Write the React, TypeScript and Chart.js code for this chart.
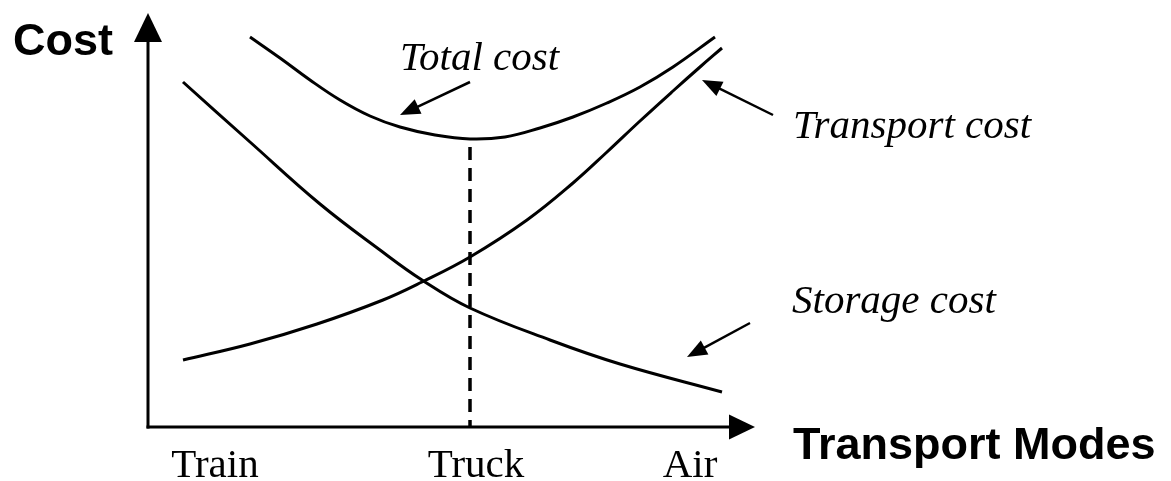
import React, { useEffect, useRef } from "react";
import { Chart, registerables } from "chart.js";

Chart.register(...registerables);

// ---- data (x: position along transport-mode axis, y: cost) ----
const modeTicks = [67, 328, 542];
const modeLabels = ["Train", "Truck", "Air"];

const storageX = [35, 102, 172, 232, 274, 322, 402, 472, 574];
const storageY = [345, 285, 223, 177, 147, 119, 87, 63, 35];

const transportX = [35, 102, 169, 235, 274, 322, 379, 425, 459, 492, 525, 552, 574];
const transportY = [67, 83, 103, 127, 145, 170, 207, 244, 275, 306, 336, 360, 379];

const totalX = [102, 132, 162, 192, 222, 252, 287, 322, 357, 392, 425, 459, 492, 525, 567];
const totalY = [390, 369, 347, 327, 311, 300, 292, 288, 290, 299, 310, 324, 340, 360, 390];

const optimumX = [322, 322];
const optimumY = [280, 0];

const annotationLabels = ["Total cost", "Transport cost", "Storage cost"];
// pointer arrows: tail -> tip, in data units
const arrowTailX = [322, 625, 602];
const arrowTailY = [345, 312, 104];
const arrowTipX = [252, 554, 539];
const arrowTipY = [312, 347, 70];

const axisTitleY = "Cost";
const axisTitleX = "Transport Modes";

// ---- layout / style ----
const W = 1171;
const H = 481;
const X_MAX = 607;
const Y_MAX = 414;
const labelAnchors = [
  { x: 400, y: 70 },
  { x: 793, y: 138 },
  { x: 792, y: 313 },
];

const toPoints = (xs: number[], ys: number[]) => xs.map((x, i) => ({ x, y: ys[i] }));

function triangle(ctx: CanvasRenderingContext2D, tx: number, ty: number, dx: number, dy: number, len: number, half: number) {
  const bx = tx - dx * len;
  const by = ty - dy * len;
  const nx = -dy;
  const ny = dx;
  ctx.beginPath();
  ctx.moveTo(tx, ty);
  ctx.lineTo(bx + nx * half, by + ny * half);
  ctx.lineTo(bx - nx * half, by - ny * half);
  ctx.closePath();
  ctx.fill();
}

const overlayPlugin = {
  id: "overlay",
  afterDraw(chart: any) {
    const { ctx, scales } = chart;
    const xs = scales.x;
    const ys = scales.y;
    const px = (v: number) => xs.getPixelForValue(v);
    const py = (v: number) => ys.getPixelForValue(v);
    ctx.save();
    ctx.strokeStyle = "#000";
    ctx.fillStyle = "#000";
    ctx.lineCap = "butt";

    const ox = px(0);
    const oy = py(0);
    const top = py(Y_MAX);
    const right = px(X_MAX);

    // axes
    ctx.lineWidth = 3;
    ctx.beginPath();
    ctx.moveTo(ox, oy + 1.5);
    ctx.lineTo(ox, top + 20);
    ctx.stroke();
    triangle(ctx, ox, top, 0, -1, 29, 14);

    ctx.beginPath();
    ctx.moveTo(ox - 1.5, oy);
    ctx.lineTo(right - 18, oy);
    ctx.stroke();
    triangle(ctx, right, oy, 1, 0, 26, 12.5);

    // pointer arrows
    ctx.lineWidth = 2.5;
    for (let i = 0; i < arrowTailX.length; i++) {
      const x1 = px(arrowTailX[i]);
      const y1 = py(arrowTailY[i]);
      const x2 = px(arrowTipX[i]);
      const y2 = py(arrowTipY[i]);
      const d = Math.hypot(x2 - x1, y2 - y1);
      const dx = (x2 - x1) / d;
      const dy = (y2 - y1) / d;
      ctx.beginPath();
      ctx.moveTo(x1, y1);
      ctx.lineTo(x2 - dx * 14, y2 - dy * 14);
      ctx.stroke();
      triangle(ctx, x2, y2, dx, dy, 20, 8);
    }

    // annotation texts
    ctx.textAlign = "left";
    ctx.textBaseline = "alphabetic";
    ctx.font = 'italic 41px "Liberation Serif"';
    annotationLabels.forEach((t, i) => {
      ctx.fillText(t, labelAnchors[i].x, labelAnchors[i].y);
    });

    // axis titles
    ctx.font = 'bold 45px "Liberation Sans"';
    ctx.textAlign = "right";
    ctx.fillText(axisTitleY, 113, 55);
    ctx.textAlign = "left";
    ctx.fillText(axisTitleX, 793, 459);
    ctx.restore();
  },
};

export default function App() {
  const ref = useRef<HTMLCanvasElement | null>(null);

  useEffect(() => {
    document.body.style.margin = "0";
    const canvas = ref.current;
    if (!canvas) return;
    const lineStyle = {
      borderColor: "#000",
      borderWidth: 3,
      pointRadius: 0,
      fill: false,
      tension: 0.4,
    };
    const chart = new Chart(canvas, {
      type: "line",
      data: {
        datasets: [
          { label: "Storage cost", data: toPoints(storageX, storageY), ...lineStyle },
          { label: "Transport cost", data: toPoints(transportX, transportY), ...lineStyle },
          { label: "Total cost", data: toPoints(totalX, totalY), ...lineStyle },
          {
            label: "Optimum",
            data: toPoints(optimumX, optimumY),
            borderColor: "#000",
            borderWidth: 3.5,
            borderDash: [13, 8],
            pointRadius: 0,
            fill: false,
          },
        ],
      },
      options: {
        responsive: false,
        animation: false,
        events: [],
        layout: { padding: { left: 148, right: W - 755, top: 13, bottom: 0 } },
        plugins: { legend: { display: false }, tooltip: { enabled: false }, title: { display: false } },
        scales: {
          x: {
            type: "linear",
            min: 0,
            max: X_MAX,
            grid: { display: false, drawTicks: false },
            border: { display: false },
            afterBuildTicks: (scale: any) => {
              scale.ticks = modeTicks.map((v) => ({ value: v }));
            },
            afterFit: (scale: any) => {
              scale.height = 54;
            },
            ticks: {
              autoSkip: false,
              maxRotation: 0,
              padding: 15,
              color: "#000",
              font: { family: '"Liberation Serif"', size: 41, lineHeight: 1.2 },
              callback: (_v: any, i: number) => modeLabels[i],
            },
          },
          y: {
            type: "linear",
            min: 0,
            max: Y_MAX,
            display: false,
          },
        },
      },
      plugins: [overlayPlugin],
    });
    return () => chart.destroy();
  }, []);

  return (
    <div style={{ width: W, height: H }}>
      <canvas ref={ref} width={W} height={H} style={{ display: "block" }} />
    </div>
  );
}
